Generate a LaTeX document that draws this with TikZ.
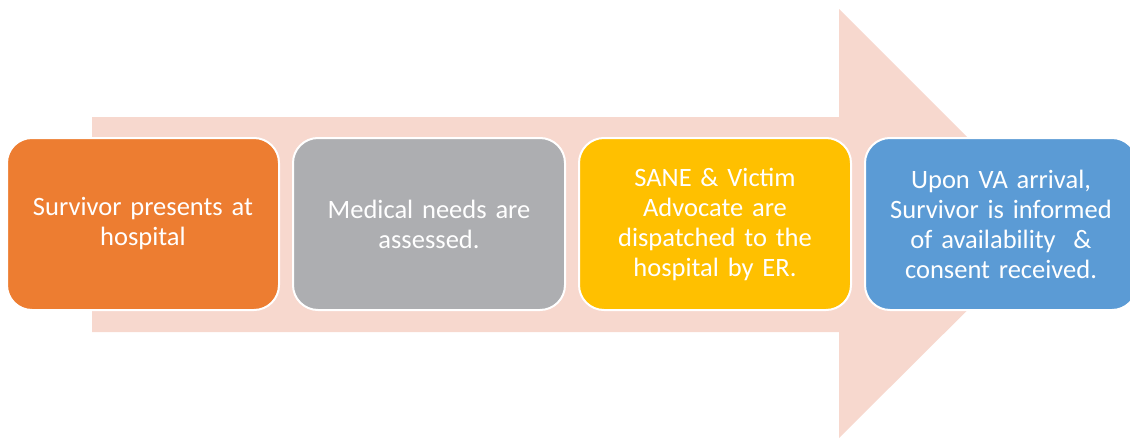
\documentclass[tikz,border=0pt]{standalone}
\usepackage{fontspec}
\setmainfont{Carlito}
\usetikzlibrary{positioning}
\definecolor{arrowpink}{HTML}{F7D8CE}
\definecolor{steporange}{HTML}{ED7D31}
\definecolor{stepgray}{HTML}{ADAEB1}
\definecolor{stepyellow}{HTML}{FFC000}
\definecolor{stepblue}{HTML}{5B9BD5}
\tikzset{
  stepbox/.style={draw=white, line width=2pt, rounded corners=25pt, minimum width=272pt, minimum height=172pt,
    text width=262pt, align=center, text=white, font=\fontsize{26.5}{30}\selectfont, outer sep=0pt, inner sep=0pt}
}
\begin{document}
\begin{tikzpicture}[x=1pt, y=-1pt]
\useasboundingbox (0,0) rectangle (1130,439);
% big background arrow
\fill[arrowpink] (92,117) -- (839,117) -- (839,9) -- (1054,224) -- (839,438) -- (839,332) -- (92,332) -- cycle;

\node[stepbox, fill=steporange] (Survivor) at (143,224) {Survivor presents at\\hospital};
\node[stepbox, fill=stepgray, right=14pt of Survivor] (Medical) {Medical needs are\\assessed.};
\node[stepbox, fill=stepyellow, right=14pt of Medical] (Dispatch) {SANE \& Victim\\Advocate are\\dispatched to the\\hospital by ER.};
\node[stepbox, fill=stepblue, right=14pt of Dispatch] (Consent) {Upon VA arrival,\\Survivor is informed\\of availability~~\&\\consent received.};
\end{tikzpicture}
\end{document}
